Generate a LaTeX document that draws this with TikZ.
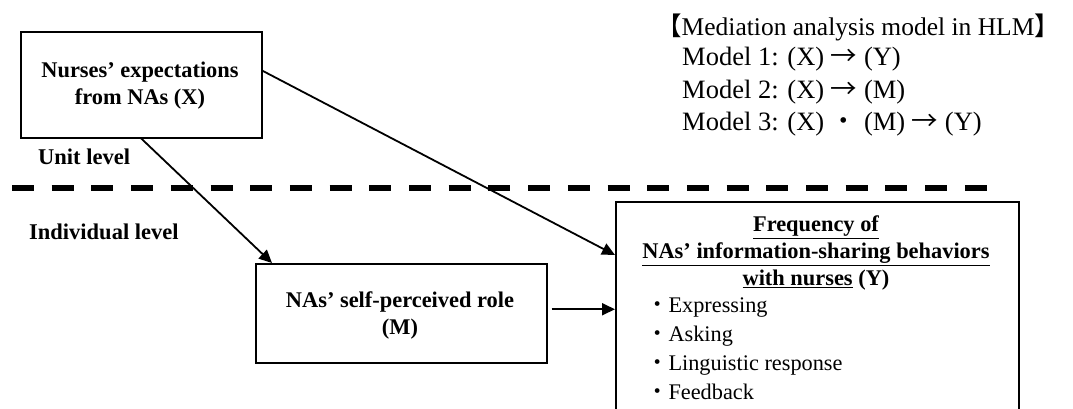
\documentclass[tikz,border=0pt]{standalone}
\usepackage{fontspec}
\setmainfont{Liberation Serif}
\newfontfamily\cjk{Noto Sans CJK JP}
\usetikzlibrary{arrows.meta}
\tikzset{
  box/.style={draw, line width=1.5pt, inner sep=0pt},
  arr/.style={line width=1.8pt, -{Triangle[length=13pt,width=12pt]}},
  lbl/.style={inner sep=0pt, anchor=west, font=\bfseries\fontsize{22.5}{27}\selectfont},
  boxtxt/.style={inner sep=0pt, align=center, font=\bfseries\fontsize{22.4}{27}\selectfont},
  modeltxt/.style={inner sep=0pt, anchor=west, font=\fontsize{26.5}{30}\selectfont},
  headtxt/.style={inner sep=0pt, anchor=west, font=\fontsize{25.5}{30}\selectfont},
  itemtxt/.style={inner sep=0pt, anchor=north west, align=left, font=\fontsize{22.3}{29}\selectfont},
  levelline/.style={line width=6pt, dash pattern=on 22pt off 17.7pt}
}
\begin{document}
\begin{tikzpicture}[x=1pt,y=-1pt]
\clip (0,0) rectangle (1073,408);
\useasboundingbox (0,0) rectangle (1073,408);
% boxes
\node[box, anchor=north west, minimum width=241pt, minimum height=106pt] (X) at (20,31) {};
\node[boxtxt] (Xt) at (140,86) {Nurses’ expectations\\from NAs (X)};
\node[box, anchor=north west, minimum width=291pt, minimum height=99pt] (M) at (255,263) {};
\node[boxtxt] (Mt) at (400,315) {NAs’ self-perceived role\\(M)};
\node[box, anchor=north west, minimum width=403pt, minimum height=260pt] (Y) at (615,201) {};
\node[boxtxt] (Yt) at (816,253) {\underline{Frequency of}\\\underline{NAs’ information-sharing behaviors}\\\underline{with nurses} (Y)};
\node[itemtxt] (Yi) at (646,298) {{\cjk ・}Expressing\\{\cjk ・}Asking\\{\cjk ・}Linguistic response\\{\cjk ・}Feedback};
% level labels and line
\node[lbl] (unit) at (38,157) {Unit level};
\node[lbl] (indiv) at (29,232) {Individual level};
\coordinate (dl) at (12,188);
\coordinate (dr) at (987,188);
\draw[levelline] (dl) -- (dr);
% model text
\node[headtxt] (h) at (656,27) {{\cjk 【}Mediation analysis model in HLM{\cjk 】}};
\node[modeltxt] (m1) at (682,59) {Model 1: (X) {\cjk →} (Y)};
\node[modeltxt] (m2) at (682,92) {Model 2: (X) {\cjk →} (M)};
\node[modeltxt] (m3) at (682,124) {Model 3: (X) {\cjk ・} (M) {\cjk →} (Y)};
% connectors
\draw[arr] ([yshift=14pt]X.east) -- ([yshift=-54pt]Y.north west);
\draw[arr] (X.south) -- ([xshift=17pt]M.north west);
\coordinate (mout) at ([xshift=4pt,yshift=4pt]M.east);
\draw[arr] (mout) -- (mout -| Y.west);
\end{tikzpicture}
\end{document}
